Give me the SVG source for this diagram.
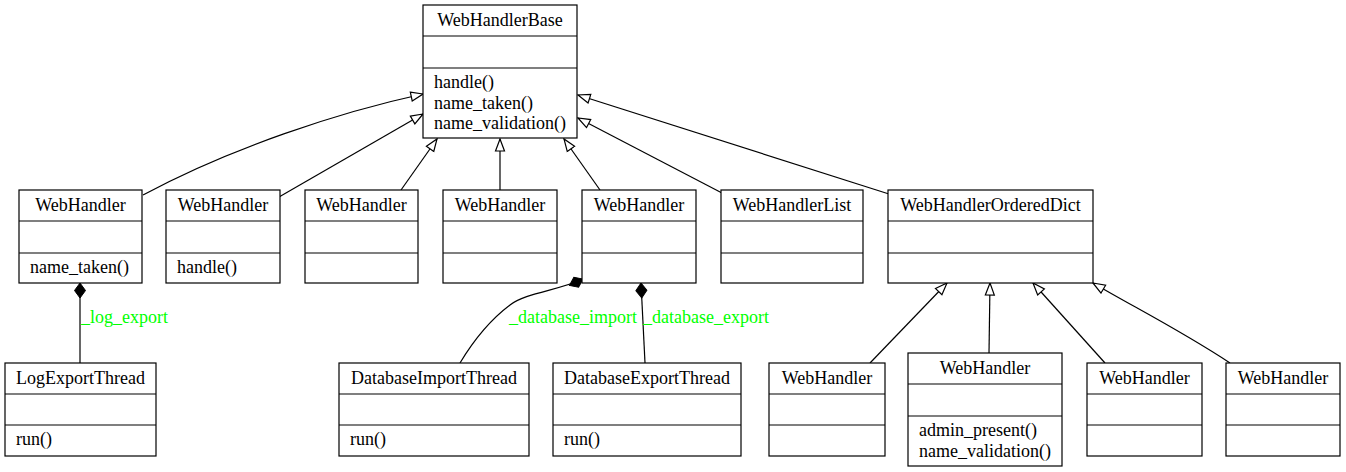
<svg xmlns="http://www.w3.org/2000/svg" width="1346" height="472" viewBox="0 0 1346 472">
<style>
rect.box{fill:#fff;stroke:#000;stroke-width:1.2}
line.sep{stroke:#000;stroke-width:1.2}
text{font-family:"Liberation Serif","Times New Roman",serif;font-size:18px;fill:#000}
text.t{text-anchor:middle}
text.lbl{fill:#00ff00}
.edge{fill:none;stroke:#000;stroke-width:1.2}
.inh{marker-end:url(#tri)}
.comp{marker-start:url(#dia)}
</style>
<defs>
<marker id="tri" markerUnits="userSpaceOnUse" markerWidth="14" markerHeight="12" viewBox="-1 -1 14 11" refX="12" refY="4.5" orient="auto">
<path d="M0,0 L12,4.5 L0,9 Z" fill="#fff" stroke="#000" stroke-width="1.2"/>
</marker>
<marker id="dia" markerUnits="userSpaceOnUse" markerWidth="18" markerHeight="14" viewBox="-1 -1 18 13" refX="0" refY="5.5" orient="auto">
<path d="M0,5.5 L7.5,0 L15,5.5 L7.5,11 Z" fill="#000" stroke="#000" stroke-width="1"/>
</marker>
</defs>

<g id="connectors">
<path class="edge inh" d="M143,195 C230,148 340,112 423,94"/>
<path class="edge inh" d="M279,197 L423,114"/>
<path class="edge inh" d="M401,190 L437,139"/>
<path class="edge inh" d="M500,190 L500,139"/>
<path class="edge inh" d="M600,190 L564,139"/>
<path class="edge inh" d="M722,193 L578,118"/>
<path class="edge inh" d="M889,194 L578,95"/>
<path class="edge comp" d="M80,283 L80,363"/>
<path class="edge comp" d="M583,279 C560,290 525,293 510,305 C490,320 472,343 460,363"/>
<path class="edge comp" d="M641,283 L645,363"/>
<path class="edge inh" d="M870,363 L947,283"/>
<path class="edge inh" d="M989,353 L990,283"/>
<path class="edge inh" d="M1105,363 L1033,283"/>
<path class="edge inh" d="M1230,363 C1180,330 1130,305 1093,283"/>
<text class="lbl" x="81" y="323">_log_export</text>
<text class="lbl" x="509" y="323">_database_import</text>
<text class="lbl" x="643" y="323">_database_export</text>
</g>

<g id="WebHandlerBase">
<rect class="box" x="423" y="5" width="154" height="133"/>
<line class="sep" x1="423" y1="36" x2="577" y2="36"/>
<line class="sep" x1="423" y1="68" x2="577" y2="68"/>
<text class="t" x="500" y="26">WebHandlerBase</text>
<text x="434" y="88">handle()</text>
<text x="434" y="108.5">name_taken()</text>
<text x="434" y="129">name_validation()</text>
</g>

<g id="WebHandler1">
<rect class="box" x="19" y="190" width="123" height="93"/>
<line class="sep" x1="19" y1="221" x2="142" y2="221"/>
<line class="sep" x1="19" y1="253" x2="142" y2="253"/>
<text class="t" x="80.5" y="211">WebHandler</text>
<text x="30" y="273">name_taken()</text>
</g>

<g id="WebHandler2">
<rect class="box" x="166" y="190" width="114" height="93"/>
<line class="sep" x1="166" y1="221" x2="280" y2="221"/>
<line class="sep" x1="166" y1="253" x2="280" y2="253"/>
<text class="t" x="223" y="211">WebHandler</text>
<text x="177" y="273">handle()</text>
</g>

<g id="WebHandler3">
<rect class="box" x="305" y="190" width="113" height="93"/>
<line class="sep" x1="305" y1="221" x2="418" y2="221"/>
<line class="sep" x1="305" y1="253" x2="418" y2="253"/>
<text class="t" x="361.5" y="211">WebHandler</text>
</g>

<g id="WebHandler4">
<rect class="box" x="443" y="190" width="114" height="93"/>
<line class="sep" x1="443" y1="221" x2="557" y2="221"/>
<line class="sep" x1="443" y1="253" x2="557" y2="253"/>
<text class="t" x="500" y="211">WebHandler</text>
</g>

<g id="WebHandler5">
<rect class="box" x="582" y="190" width="114" height="93"/>
<line class="sep" x1="582" y1="221" x2="696" y2="221"/>
<line class="sep" x1="582" y1="253" x2="696" y2="253"/>
<text class="t" x="639" y="211">WebHandler</text>
</g>

<g id="WebHandlerList">
<rect class="box" x="721" y="190" width="142" height="93"/>
<line class="sep" x1="721" y1="221" x2="863" y2="221"/>
<line class="sep" x1="721" y1="253" x2="863" y2="253"/>
<text class="t" x="792" y="211">WebHandlerList</text>
</g>

<g id="WebHandlerOrderedDict">
<rect class="box" x="888" y="190" width="205" height="93"/>
<line class="sep" x1="888" y1="221" x2="1093" y2="221"/>
<line class="sep" x1="888" y1="253" x2="1093" y2="253"/>
<text class="t" x="990.5" y="211">WebHandlerOrderedDict</text>
</g>

<g id="LogExportThread">
<rect class="box" x="5" y="363" width="151" height="93"/>
<line class="sep" x1="5" y1="394" x2="156" y2="394"/>
<line class="sep" x1="5" y1="425" x2="156" y2="425"/>
<text class="t" x="80.5" y="384">LogExportThread</text>
<text x="16" y="445">run()</text>
</g>

<g id="DatabaseImportThread">
<rect class="box" x="339" y="363" width="190" height="93"/>
<line class="sep" x1="339" y1="394" x2="529" y2="394"/>
<line class="sep" x1="339" y1="425" x2="529" y2="425"/>
<text class="t" x="434" y="384">DatabaseImportThread</text>
<text x="350" y="445">run()</text>
</g>

<g id="DatabaseExportThread">
<rect class="box" x="553" y="363" width="188" height="93"/>
<line class="sep" x1="553" y1="394" x2="741" y2="394"/>
<line class="sep" x1="553" y1="425" x2="741" y2="425"/>
<text class="t" x="647" y="384">DatabaseExportThread</text>
<text x="564" y="445">run()</text>
</g>

<g id="WebHandler6">
<rect class="box" x="769" y="363" width="116" height="93"/>
<line class="sep" x1="769" y1="394" x2="885" y2="394"/>
<line class="sep" x1="769" y1="425" x2="885" y2="425"/>
<text class="t" x="827" y="384">WebHandler</text>
</g>

<g id="WebHandler7">
<rect class="box" x="908" y="353" width="154" height="113"/>
<line class="sep" x1="908" y1="384" x2="1062" y2="384"/>
<line class="sep" x1="908" y1="416" x2="1062" y2="416"/>
<text class="t" x="985" y="374">WebHandler</text>
<text x="919" y="436">admin_present()</text>
<text x="919" y="456.5">name_validation()</text>
</g>

<g id="WebHandler8">
<rect class="box" x="1087" y="363" width="115" height="93"/>
<line class="sep" x1="1087" y1="394" x2="1202" y2="394"/>
<line class="sep" x1="1087" y1="425" x2="1202" y2="425"/>
<text class="t" x="1144.5" y="384">WebHandler</text>
</g>

<g id="WebHandler9">
<rect class="box" x="1226" y="363" width="114" height="93"/>
<line class="sep" x1="1226" y1="394" x2="1340" y2="394"/>
<line class="sep" x1="1226" y1="425" x2="1340" y2="425"/>
<text class="t" x="1283" y="384">WebHandler</text>
</g>
</svg>
